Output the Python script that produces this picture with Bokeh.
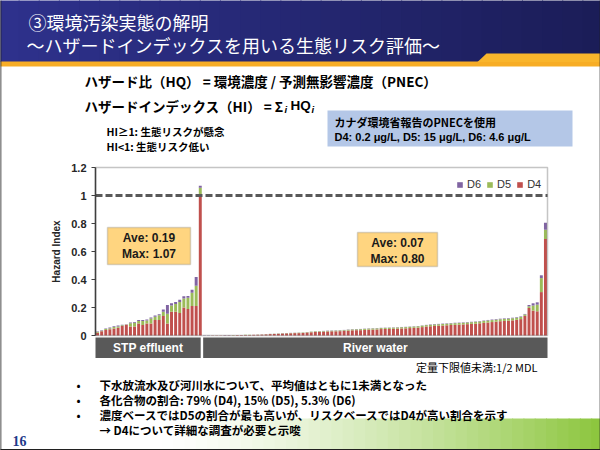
from bokeh.plotting import figure
from bokeh.models import (ColumnDataSource, Range1d, FixedTicker, Legend, LegendItem,
                          BoxAnnotation, Label, PolyAnnotation)
from bokeh.embed import file_html
from bokeh.resources import INLINE

# ---------------- data ----------------
groups = ["STP effluent", "River water"]
compounds = ["D4", "D5", "D6"]
legend_order = ["D6", "D5", "D4"]
colors = {"D4": "#C0504D", "D5": "#9BBB59", "D6": "#8064A2"}

stp_d4 = [0.020, 0.030, 0.040, 0.045, 0.050, 0.055, 0.068, 0.076, 0.065, 0.065, 0.085, 0.075, 0.085,
          0.085, 0.110, 0.110, 0.140, 0.085, 0.170, 0.170, 0.160, 0.200, 0.190, 0.210, 0.210, 1.000]
stp_d5 = [0.005, 0.004, 0.006, 0.007, 0.010, 0.010, 0.005, 0.002, 0.022, 0.026, 0.019, 0.029, 0.023,
          0.036, 0.024, 0.034, 0.030, 0.070, 0.045, 0.055, 0.080, 0.065, 0.080, 0.095, 0.145, 0.055]
stp_d6 = [0.003, 0.004, 0.004, 0.005, 0.006, 0.006, 0.003, 0.002, 0.005, 0.006, 0.006, 0.006, 0.006,
          0.007, 0.008, 0.008, 0.015, 0.063, 0.015, 0.015, 0.016, 0.015, 0.012, 0.022, 0.063, 0.015]

river_d4 = [0.0005, 0.0006, 0.001, 0.0012, 0.0012, 0.002, 0.002, 0.002, 0.003, 0.003,
            0.004, 0.004, 0.0045, 0.0055, 0.0065, 0.008, 0.010, 0.011, 0.012, 0.014,
            0.015, 0.016, 0.017, 0.017, 0.018, 0.021, 0.023, 0.025, 0.026, 0.027,
            0.029, 0.030, 0.030, 0.031, 0.033, 0.035, 0.037, 0.038, 0.038, 0.040,
            0.042, 0.042, 0.043, 0.046, 0.047, 0.047, 0.048, 0.049, 0.050, 0.051,
            0.053, 0.055, 0.056, 0.060, 0.064, 0.066, 0.069, 0.070, 0.071, 0.073,
            0.075, 0.076, 0.077, 0.079, 0.081, 0.083, 0.084, 0.087, 0.090, 0.093,
            0.096, 0.099, 0.102, 0.104, 0.106, 0.108, 0.112, 0.117, 0.140, 0.197,
            0.178, 0.173, 0.310, 0.690]
river_d5 = [0.0003, 0.0002, 0.0006, 0.0005, 0.0005, 0.0006, 0.0006, 0.0007, 0.0006, 0.0007,
            0.0006, 0.0007, 0.001, 0.001, 0.001, 0.0013, 0.0013, 0.0013, 0.002, 0.002,
            0.002, 0.002, 0.002, 0.003, 0.003, 0.003, 0.004, 0.004, 0.004, 0.004,
            0.004, 0.004, 0.005, 0.005, 0.005, 0.006, 0.006, 0.006, 0.007, 0.007,
            0.007, 0.008, 0.008, 0.007, 0.007, 0.008, 0.008, 0.008, 0.009, 0.009,
            0.009, 0.009, 0.010, 0.010, 0.010, 0.010, 0.010, 0.010, 0.011, 0.011,
            0.011, 0.012, 0.012, 0.012, 0.012, 0.012, 0.013, 0.013, 0.014, 0.014,
            0.014, 0.014, 0.014, 0.014, 0.014, 0.015, 0.015, 0.015, 0.010, 0.011,
            0.036, 0.047, 0.100, 0.065]
river_d6 = [0.0002, 0.0002, 0.0004, 0.0003, 0.0003, 0.0004, 0.0004, 0.0003, 0.0004, 0.0003,
            0.0004, 0.0003, 0.0005, 0.0005, 0.0005, 0.0007, 0.0007, 0.0007, 0.001, 0.001,
            0.001, 0.001, 0.001, 0.001, 0.001, 0.001, 0.001, 0.001, 0.001, 0.002,
            0.002, 0.002, 0.002, 0.002, 0.002, 0.002, 0.002, 0.002, 0.002, 0.002,
            0.002, 0.002, 0.002, 0.002, 0.002, 0.002, 0.002, 0.002, 0.002, 0.002,
            0.002, 0.002, 0.002, 0.002, 0.002, 0.003, 0.003, 0.003, 0.003, 0.003,
            0.003, 0.003, 0.003, 0.003, 0.003, 0.003, 0.003, 0.003, 0.003, 0.004,
            0.004, 0.004, 0.004, 0.004, 0.004, 0.004, 0.004, 0.004, 0.004, 0.010,
            0.016, 0.017, 0.020, 0.050]

y_ticks = [0, 0.2, 0.4, 0.6, 0.8, 1.0, 1.2]
y_tick_labels = ["0", "0.2", "0.4", "0.6", "0.8", "1", "1.2"]
y_max = 1.2
threshold = 1.0

title_lines = ["③環境汚染実態の解明", "～ハザードインデックスを用いる生態リスク評価～"]
hq_def = "ハザード比（HQ） = 環境濃度 / 予測無影響濃度（PNEC）"
hi_def = ["ハザードインデックス（HI） = Σ", "i", "HQ", "i"]
hi_notes = ["HI≥1: 生態リスクが懸念", "HI<1: 生態リスク低い"]
pnec_note = ["カナダ環境省報告のPNECを使用", "D4: 0.2 μg/L, D5: 15 μg/L, D6:  4.6 μg/L"]
mdl_note = "定量下限値未満:1/2 MDL"
bullets = ["下水放流水及び河川水について、平均値はともに1未満となった",
           "各化合物の割合: 79% (D4), 15% (D5), 5.3% (D6)",
           "濃度ベースではD5の割合が最も高いが、リスクベースではD4が高い割合を示す"]
bullet_cont = "→ D4について詳細な調査が必要と示唆"
page_no = "16"

# ---------------- build ----------------
d4 = stp_d4 + river_d4
d5 = stp_d5 + river_d5
d6 = stp_d6 + river_d6
n_stp, n_riv = len(stp_d4), len(river_d4)
n = n_stp + n_riv
src = ColumnDataSource(dict(x=list(range(n)), D4=d4, D5=d5, D6=d6))

stp_tot = [a + b + c for a, b, c in zip(stp_d4, stp_d5, stp_d6)]
riv_tot = [a + b + c for a, b, c in zip(river_d4, river_d5, river_d6)]
stats = [(sum(stp_tot) / n_stp, max(stp_tot)), (sum(riv_tot) / n_riv, max(riv_tot))]

W, H = 600, 450
FX0, FX1, FY0, FY1 = 95, 547, 167, 335   # plot area in page pixels
xpp = n / (FX1 - FX0)
ypp = y_max / (FY1 - FY0)

p = figure(width=W, height=H, output_backend="svg", toolbar_location=None, title=None,
           x_range=Range1d(-0.5 - FX0 * xpp, n - 0.5 + (W - FX1) * xpp),
           y_range=Range1d(-(H - FY1) * ypp, y_max + FY0 * ypp),
           x_axis_type=None, min_border=0)
p.background_fill_color = "white"
p.border_fill_color = "white"
p.outline_line_color = None
p.ygrid.visible = False


def sx(X):
    return X


def sy(Y):
    return H - Y


def sbox(x0, y0, x1, y1, color, line=None, lw=1, level="underlay"):
    p.add_layout(BoxAnnotation(left=sx(x0), right=sx(x1), top=sy(y0), bottom=sy(y1),
                               left_units="screen", right_units="screen",
                               top_units="screen", bottom_units="screen",
                               fill_color=color, fill_alpha=1.0, line_color=line,
                               line_width=lw, level=level))


def txt(X, Y, text, size, bold=False, color="#000000", font="Noto Sans CJK JP",
        align="left", italic=False):
    style = "bold" if bold else "normal"
    if italic:
        style = "bold italic" if bold else "italic"
    p.add_layout(Label(x=sx(X), y=sy(Y), x_units="screen", y_units="screen", text=text,
                       text_font=font, text_font_size=f"{size}px", text_font_style=style,
                       text_color=color, text_align=align, text_baseline="middle"))


def mix(c0, c1, t):
    return "#%02x%02x%02x" % tuple(int(round(a + (b - a) * t)) for a, b in zip(c0, c1))


# title bar (gradient)
ns = 30
for i in range(ns):
    x0 = -2 + i * 604 / ns
    sbox(x0, -2, x0 + 604 / ns + 1, 61.5, mix((46, 49, 140), (27, 29, 88), i / (ns - 1)))
sbox(-2, 61, 602, 66, "#F7AD26")
p.add_layout(PolyAnnotation(xs=[sx(477), sx(486), sx(602), sx(602)],
                            ys=[sy(61.5), sy(53), sy(53), sy(61.5)],
                            xs_units="screen", ys_units="screen",
                            fill_color="#F9B52C", fill_alpha=1.0, line_color=None,
                            level="underlay"))

# bottom green gradient
ng = 40
for i in range(ng):
    x0 = 150 + i * 452 / ng
    t = (i / (ng - 1)) ** 1.4
    sbox(x0, 418, x0 + 452 / ng + 1, 452, mix((255, 255, 255), (141, 198, 63), t))

# slide border
sbox(-2, 448.5, 602, 452, "#202020")
sbox(-2, -2, 0.8, 452, "#202020")
sbox(599.2, -2, 602, 452, "#202020")

# PNEC box
sbox(327, 110, 572, 146, "#B4C7E7")

# bars
rs = p.vbar_stack(compounds, x="x", width=0.72, color=[colors[c] for c in compounds],
                  line_color=None, source=src)
rmap = dict(zip(compounds, rs))

# plot-area box and threshold line
p.add_layout(BoxAnnotation(left=-0.5, right=n - 0.5, bottom=0, top=y_max, fill_alpha=0,
                           line_color="#404040", line_width=1.5))
p.segment(x0=-0.5, x1=n - 0.5, y0=threshold, y1=threshold, line_color="#595959",
          line_width=3, line_dash="7 3")

# y axis (drawn at the plot-area edge)
ax = p.yaxis[0]
ax.fixed_location = -0.5
ax.bounds = (0, y_max)
ax.ticker = FixedTicker(ticks=y_ticks)
ax.major_label_overrides = {t: l for t, l in zip(y_ticks, y_tick_labels)}
ax.minor_tick_line_color = None
ax.major_tick_in = 0
ax.major_tick_out = 4
ax.major_tick_line_color = "#404040"
ax.axis_line_color = "#404040"
ax.axis_line_width = 1.5
ax.major_label_text_font = "Liberation Sans"
ax.major_label_text_font_style = "bold"
ax.major_label_text_font_size = "11px"
ax.major_label_text_color = "#262626"
ax.major_label_standoff = 5
ax.axis_label = "Hazard Index"
ax.axis_label_text_font = "Liberation Sans"
ax.axis_label_text_font_style = "bold"
ax.axis_label_text_font_size = "10px"
ax.axis_label_text_color = "#262626"
ax.axis_label_standoff = 6

# legend
legend = Legend(items=[LegendItem(label=c, renderers=[rmap[c]]) for c in legend_order],
                location=(sx(456), sy(190)), orientation="horizontal", border_line_color=None,
                background_fill_alpha=0, glyph_width=7, glyph_height=7, label_standoff=4,
                spacing=5, margin=0, padding=0, label_text_font="Liberation Sans",
                label_text_font_size="11px", label_text_color="#333333", label_height=12,
                label_width=12)
p.add_layout(legend)

# group boxes below axis
bounds = [(-0.5, n_stp - 0.5 - 0.4), (n_stp - 0.5 + 0.2, n - 0.5)]
for (l, r), g in zip(bounds, groups):
    p.add_layout(BoxAnnotation(left=l, right=r, top=sy(337), bottom=sy(357.5),
                               top_units="screen", bottom_units="screen",
                               fill_color="#595959", fill_alpha=1.0, line_color=None))
    p.add_layout(Label(x=(l + r) / 2, y=sy(347.5), y_units="screen", text=g,
                       text_align="center", text_baseline="middle", text_color="white",
                       text_font="Liberation Sans", text_font_style="bold",
                       text_font_size="12px"))

# Ave / Max boxes
boxes = [(107, 227, 190, 264), (357, 232, 437, 266)]
for (x0, y0, x1, y1), (ave, mx) in zip(boxes, stats):
    sbox(x0, y0, x1, y1, "#FFD580", line="#7F7F7F", lw=1.5, level="annotation")
    cx = (x0 + x1) / 2
    txt(cx, y0 + 10.5, f"Ave: {ave:.2f}", 12, bold=True, color="#1a1a1a",
        font="Liberation Sans", align="center")
    txt(cx, y0 + 26.5, f"Max: {mx:.2f}", 12, bold=True, color="#1a1a1a",
        font="Liberation Sans", align="center")

# texts
txt(28, 21, title_lines[0], 18, color="white")
txt(26, 44, title_lines[1], 18, color="white")
HX = 84
txt(HX, 80, hq_def, 13.5, bold=True)
txt(HX, 105, hi_def[0], 13.5, bold=True)
txt(HX + 200, 109, hi_def[1], 9.5, bold=True, italic=True, font="Liberation Sans")
txt(HX + 206, 105, hi_def[2], 13.5, bold=True, font="Liberation Sans")
txt(HX + 227, 109, hi_def[3], 9.5, bold=True, italic=True, font="Liberation Sans")
txt(106, 131, hi_notes[0], 10.5, bold=True)
txt(106, 146, hi_notes[1], 10.5, bold=True)
txt(334, 121, pnec_note[0], 11, bold=True)
txt(334, 136, pnec_note[1], 11, bold=True, font="Liberation Sans")
txt(537, 366, mdl_note, 11, align="right")
for i, b in enumerate(bullets):
    yy = 384 + 15 * i
    txt(76, yy, "•", 12)
    txt(99, yy, b, 11.5, bold=True)
txt(99, 429, bullet_cont, 11.5, bold=True)
txt(12, 440, page_no, 14, bold=True, color="#1F3A8A", font="Liberation Serif")

open("out.html", "w").write(file_html(p, INLINE))
